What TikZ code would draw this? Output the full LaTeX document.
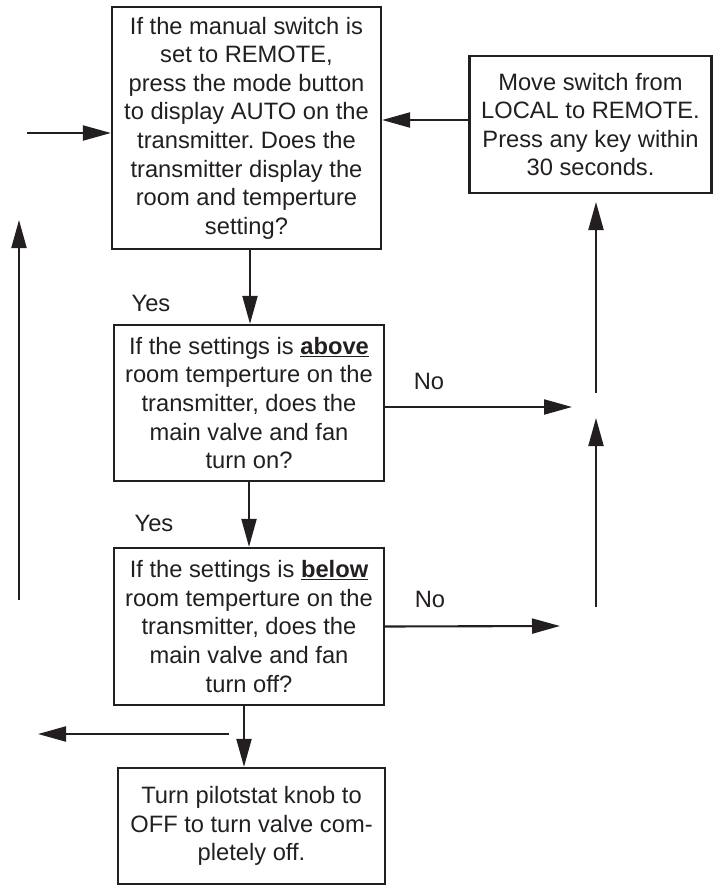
\documentclass[tikz,border=0pt]{standalone}
\usepackage{fontspec}
\setmainfont{Liberation Sans}
\usetikzlibrary{arrows.meta,calc}
\definecolor{ink}{HTML}{231F20}
\frenchspacing
\begin{document}
\begin{tikzpicture}[x=1pt,y=-1pt,
  box/.style={draw=ink,line width=2.2pt,inner sep=0pt,align=center,text=ink,
    font=\fontsize{23.7}{28.6}\selectfont},
  lbl/.style={text=ink,font=\fontsize{23.7}{26}\selectfont,inner sep=0pt},
  arr/.style={draw=ink,line width=2.1pt,-{Triangle[length=28pt,width=15pt]}},
  ln/.style={draw=ink,line width=2.1pt}]
\useasboundingbox (0,0) rectangle (714,886);
\node[box,minimum width=269pt,minimum height=242pt] (b1) at (246.5,128)
  {If the manual switch is\\set to REMOTE,\\press the mode button\\to display AUTO on the\\transmitter. Does the\\transmitter display the\\room and temperture\\setting?};
\node[box,minimum width=242pt,minimum height=137pt] (bR) at (590.5,124.5)
  {Move switch from\\LOCAL to REMOTE.\\Press any key within\\30 seconds.};
\node[box,minimum width=270pt,minimum height=156pt] (b2) at (249,403)
  {If the settings is \underline{\textbf{above}}\\room temperture on the\\transmitter, does the\\main valve and fan\\turn on?};
\node[box,minimum width=270pt,minimum height=157pt] (b3) at (249,626.5)
  {If the settings is \underline{\textbf{below}}\\room temperture on the\\transmitter, does the\\main valve and fan\\turn off?};
\node[box,minimum width=267pt,minimum height=116pt] (b4) at (251.5,826)
  {Turn pilotstat knob to\\OFF to turn valve com-\\pletely off.};
\node[lbl] (yes1) at (151,303) {Yes};
\node[lbl] (no1) at (429,381) {No};
\node[lbl] (yes2) at (154,523) {Yes};
\node[lbl] (no2) at (430,599) {No};
% coordinates
\coordinate (inL) at (27,133);
\coordinate (rIn) at (469,120);
\coordinate (d12) at (250,0);
\coordinate (d34) at (244,0);
\coordinate (lOut) at (229,734);
\coordinate (lTip) at (38,734);
\coordinate (upB) at (19,600);
\coordinate (upT) at (19,220);
\coordinate (n1) at (0,407);
\coordinate (n1T) at (572,407);
\coordinate (n2T) at (560,626);
\coordinate (r1B) at (596,393);
\coordinate (r1T) at (596,202);
\coordinate (r2B) at (596,607);
\coordinate (r2T) at (596,418);
% connectors
\draw[arr] (inL) -- (inL -| b1.west);
\draw[arr] (rIn) -- (rIn -| b1.east);
\draw[arr] (d12 |- b1.south) -- (d12 |- b2.north);
\draw[arr] (b2.south) -- (b3.north);
\draw[arr] (d34 |- b3.south) -- (d34 |- b4.north);
\draw[arr] (lOut) -- (lTip);
\draw[arr] (upB) -- (upT);
\draw[arr] (n1 -| b2.east) -- (n1T);
\draw[arr] (b3.east) -- (n2T);
\draw[arr] (r1B) -- (r1T);
\draw[arr] (r2B) -- (r2T);
\end{tikzpicture}
\end{document}
